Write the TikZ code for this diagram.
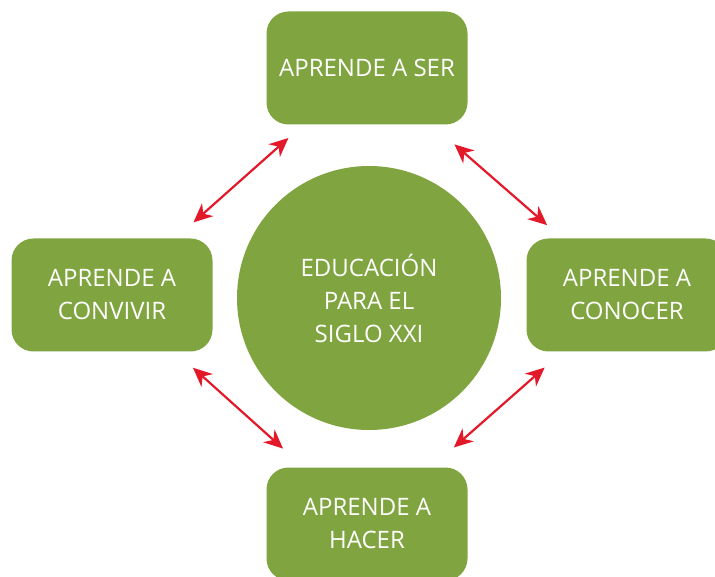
\documentclass[tikz,border=0pt]{standalone}
\usepackage{fontspec}
\setmainfont{Open Sans}
\usetikzlibrary{arrows.meta}
\definecolor{leaf}{RGB}{128,165,64}
\definecolor{arrowred}{RGB}{227,25,42}

\begin{document}
\begin{tikzpicture}[x=1pt, y=-1pt,
    font=\fontsize{24}{33}\selectfont,
    box/.style={rectangle, rounded corners=22pt, fill=leaf, text=white,
      minimum width=201pt, minimum height=113pt, align=center, inner sep=0pt},
    link/.style={draw=arrowred, line width=2.2pt,
      {Stealth[length=19pt, width=17pt, inset=6pt]}-{Stealth[length=19pt, width=17pt, inset=6pt]}}]
    \useasboundingbox (0,0) rectangle (715,577);
    \node [circle, fill=leaf, text=white, minimum size=264pt, align=center]
      (siglo) at (369,298) {EDUCACIÓN\\PARA EL\\SIGLO XXI};
    \node [box] (ser) at (367,68) {APRENDE A SER};
    \node [box] (convivir) at (112,295) {APRENDE A\\CONVIVIR};
    \node [box] (conocer) at (627,295) {APRENDE A\\CONOCER};
    \node [box] (hacer) at (367,524) {APRENDE A\\HACER};
    % double arrows between the four boxes
    \draw [link, shorten <=20pt, shorten >=24pt] (ser) -- (convivir);
    \draw [link, shorten <=30pt, shorten >=20pt] (ser) -- (conocer);
    \draw [link, shorten <=24pt, shorten >=28pt] (convivir) -- (hacer);
    \draw [link, shorten <=24pt, shorten >=30pt] (conocer) -- (hacer);
\end{tikzpicture}
\end{document}
